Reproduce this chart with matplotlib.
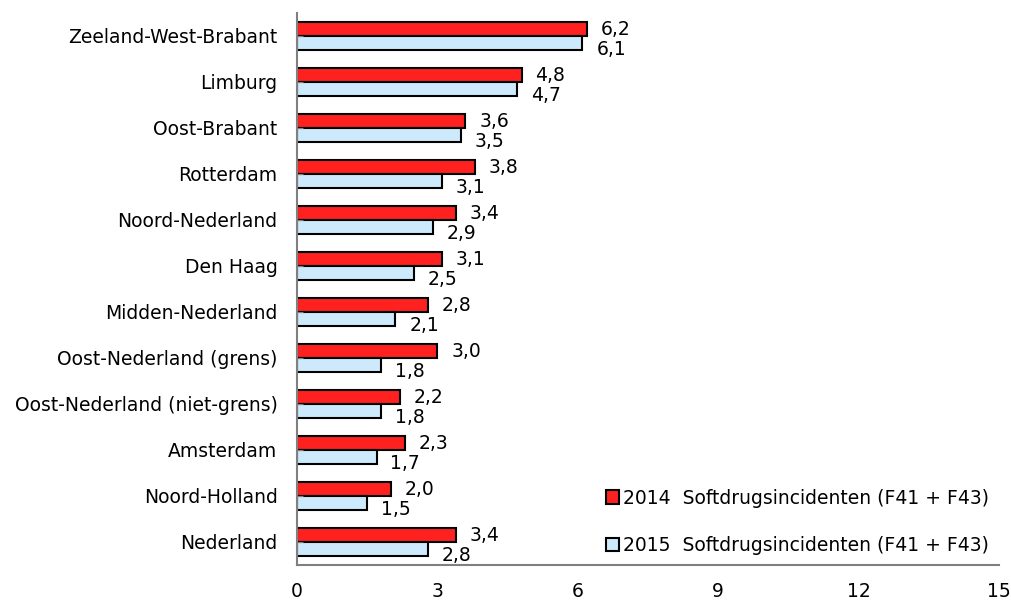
import numpy as np
import matplotlib.pyplot as plt

# regio's van boven naar beneden
regios = ['Zeeland-West-Brabant', 'Limburg', 'Oost-Brabant', 'Rotterdam',
          'Noord-Nederland', 'Den Haag', 'Midden-Nederland',
          'Oost-Nederland (grens)', 'Oost-Nederland (niet-grens)',
          'Amsterdam', 'Noord-Holland', 'Nederland']
waarden_2014 = [6.2, 4.8, 3.6, 3.8, 3.4, 3.1, 2.8, 3.0, 2.2, 2.3, 2.0, 3.4]
waarden_2015 = [6.1, 4.7, 3.5, 3.1, 2.9, 2.5, 2.1, 1.8, 1.8, 1.7, 1.5, 2.8]
xticks = [0, 3, 6, 9, 12, 15]

plt.rcParams['font.family'] = ['DejaVu Sans']
fs = 13.5

fig = plt.figure(figsize=(10.12, 6.04), dpi=100)
ax = fig.add_axes([0.2935, 0.0646, 0.6935, 0.9139])

y = np.arange(len(regios))
h = 0.3
rood = '#FF2020'
blauw = '#CCEAFB'

ax.barh(y - h / 2, waarden_2014, height=h, color=rood, edgecolor='black',
        linewidth=1.5, label='2014  Softdrugsincidenten (F41 + F43)')
ax.barh(y + h / 2, waarden_2015, height=h, color=blauw, edgecolor='black',
        linewidth=1.5, label='2015  Softdrugsincidenten (F41 + F43)')

# labels met komma als decimaalteken
for yy, v in zip(y, waarden_2014):
    ax.annotate(f'{v:.1f}'.replace('.', ','), (v, yy - h / 2), xytext=(10, 0),
                textcoords='offset points', va='center', ha='left', fontsize=fs)
for yy, v in zip(y, waarden_2015):
    ax.annotate(f'{v:.1f}'.replace('.', ','), (v, yy + h / 2), xytext=(10, -5),
                textcoords='offset points', va='center', ha='left', fontsize=fs)

ax.set_xlim(0, 15)
ax.set_ylim(len(regios) - 0.5, -0.5)
ax.set_xticks(xticks)
ax.set_xticklabels([str(t) for t in xticks], fontsize=fs)
ax.set_yticks(y)
ax.set_yticklabels(regios, fontsize=fs)
ax.tick_params(axis='x', length=0, pad=12)
ax.tick_params(axis='y', direction='in', length=4, color='#808080', pad=14)

for s in ['top', 'right']:
    ax.spines[s].set_visible(False)
for s in ['left', 'bottom']:
    ax.spines[s].set_color('#808080')
    ax.spines[s].set_linewidth(1.5)

ax.legend(loc='lower right', bbox_to_anchor=(1.0, 0.0), frameon=False,
          fontsize=fs, handlelength=0.7, handleheight=0.7, handletextpad=0.2,
          labelspacing=1.5, borderaxespad=0.15)

fig.savefig('out.png', dpi=100)
